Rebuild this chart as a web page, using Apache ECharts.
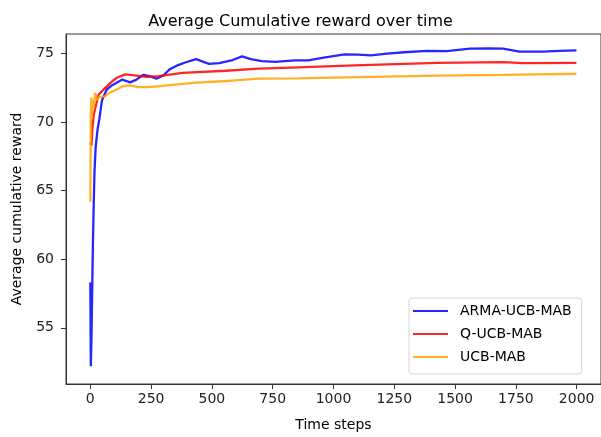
<!DOCTYPE html>
<html>
<head>
<meta charset="utf-8">
<script src="https://cdn.jsdelivr.net/npm/echarts@6/dist/echarts.min.js"></script>
<style>
  html, body { margin: 0; padding: 0; background: #fff; }
  #chart { width: 601px; height: 437px; }
</style>
</head>
<body>
<div id="chart"></div>
<script>
// values: [time step, average cumulative reward]
const armaUcb = [
  [0, 58.3], [1, 58.2], [2, 52.2], [3, 52.15], [5, 54.5], [8, 58], [11, 61.5], [14, 64],
  [17, 66.3], [22, 68.2], [30, 69.5], [37, 70.2], [48, 71.6], [68, 72.4], [90, 72.7],
  [110, 72.9], [130, 73.1], [149, 73.0], [163, 72.9], [190, 73.1], [217, 73.45], [244, 73.35],
  [272, 73.17], [300, 73.4], [326, 73.85], [353, 74.1], [390, 74.35], [435, 74.6], [465, 74.4],
  [489, 74.25], [530, 74.3], [580, 74.5], [624, 74.8], [660, 74.6], [706, 74.45], [760, 74.4],
  [800, 74.45], [842, 74.5], [896, 74.5], [960, 74.7], [1046, 74.94], [1100, 74.93],
  [1154, 74.87], [1220, 75.0], [1290, 75.1], [1385, 75.2], [1466, 75.18], [1561, 75.36],
  [1640, 75.38], [1697, 75.36], [1765, 75.14], [1860, 75.15], [1930, 75.2], [1999, 75.23]
];
const qUcb = [
  [0, 68.5], [5, 68.3], [8, 69.5], [14, 70.5], [20, 71.0], [34, 72.0], [61, 72.5], [85, 72.9],
  [109, 73.24], [143, 73.48], [190, 73.4], [231, 73.3], [280, 73.35], [380, 73.6], [557, 73.75],
  [692, 73.9], [855, 74.0], [1086, 74.14], [1426, 74.33], [1697, 74.38], [1779, 74.3], [1999, 74.33]
];
const ucb = [
  [0, 64.2], [2, 70.5], [4, 71.8], [6, 70.2], [9, 71.6], [14, 71.0], [20, 72.15], [27, 71.6],
  [34, 71.8], [61, 71.9], [81, 72.15], [110, 72.4], [136, 72.63], [163, 72.68], [197, 72.55],
  [240, 72.55], [285, 72.63], [421, 72.87], [557, 73.0], [692, 73.17], [855, 73.2], [1000, 73.25],
  [1426, 73.4], [1700, 73.45], [1999, 73.53]
];
const xTicks = [0, 250, 500, 750, 1000, 1250, 1500, 1750, 2000];
const yTicks = [55, 60, 65, 70, 75];

const font = 'DejaVu Sans';
const chart = echarts.init(document.getElementById('chart'));

function line(name, data, color) {
  return {
    name: name,
    type: 'line',
    data: data,
    symbol: 'none',
    animation: false,
    lineStyle: { color: color, width: 2.3, opacity: 0.85 },
    itemStyle: { color: color, opacity: 0.85 }
  };
}

chart.setOption({
  backgroundColor: '#fff',
  textStyle: { fontFamily: font },
  title: {
    text: 'Average Cumulative reward over time',
    left: 'center',
    top: 9,
    textStyle: { fontFamily: font, fontSize: 16, fontWeight: 'normal', color: '#000' }
  },
  grid: {
    left: 66, top: 34, width: 539, height: 350,
    show: true, borderColor: '#333', borderWidth: 1, backgroundColor: 'transparent'
  },
  legend: {
    orient: 'vertical',
    left: 409, top: 298,
    padding: [6, 10, 10, 4],
    icon: 'rect',
    itemWidth: 35, itemHeight: 2, itemGap: 9,
    backgroundColor: '#fff',
    borderColor: '#d5d5d5', borderWidth: 1, borderRadius: 3,
    textStyle: { fontFamily: font, fontSize: 14, lineHeight: 14, color: '#000', padding: [0, 0, 0, 7] },
    data: ['ARMA-UCB-MAB', 'Q-UCB-MAB', 'UCB-MAB']
  },
  xAxis: {
    type: 'value',
    min: -100, max: 2100,
    name: 'Time steps',
    nameLocation: 'middle',
    nameGap: 34,
    nameTextStyle: { fontFamily: font, fontSize: 14, color: '#000' },
    axisLine: { show: true, onZero: false, lineStyle: { color: '#333', width: 1 } },
    axisTick: { show: true, length: 5, customValues: xTicks, lineStyle: { color: '#333' } },
    axisLabel: {
      customValues: xTicks, margin: 8, fontFamily: font, fontSize: 14, color: '#222',
      formatter: function (v) { return String(v); }
    },
    splitLine: { show: false }
  },
  yAxis: {
    type: 'value',
    min: 50.9, max: 76.43,
    name: 'Average cumulative reward',
    nameLocation: 'middle',
    nameGap: 42,
    nameTextStyle: { fontFamily: font, fontSize: 14, color: '#000' },
    axisLine: { show: true, onZero: false, lineStyle: { color: '#333', width: 1 } },
    axisTick: { show: true, length: 5, customValues: yTicks, lineStyle: { color: '#333' } },
    axisLabel: {
      customValues: yTicks, margin: 12, fontFamily: font, fontSize: 14, color: '#222',
      formatter: function (v) { return String(v); }
    },
    splitLine: { show: false }
  },
  series: [
    line('ARMA-UCB-MAB', armaUcb, '#0000ff'),
    line('Q-UCB-MAB', qUcb, '#ff0000'),
    line('UCB-MAB', ucb, '#ffa500')
  ]
});
</script>
</body>
</html>
